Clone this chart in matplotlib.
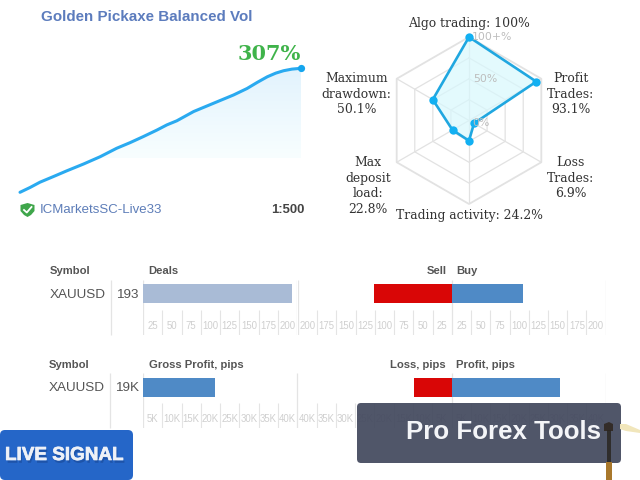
import numpy as np
import matplotlib
matplotlib.use('Agg')
from matplotlib import pyplot as plt
from matplotlib import patheffects as pe
from matplotlib.colors import LinearSegmentedColormap
from matplotlib.patches import FancyBboxPatch, Polygon

# equity curve
equity_time = [0, 3.6, 7.1, 11.9, 16.6, 22.6, 28.5, 34.4, 39.2, 43.9, 48.7, 52.3, 55.8, 61.8, 70.1, 76, 80.8, 84.4, 88, 91, 93.8, 96.8, 100]
equity_pct = [0, 12, 25, 39, 53, 70, 88, 109, 123, 138, 154, 167, 177, 200, 224, 241, 257, 272, 286, 295, 301, 305, 307]

# radar
radar_names = ['Algo trading', 'Profit\nTrades', 'Loss\nTrades', 'Trading activity', 'Max\ndeposit\nload', 'Maximum\ndrawdown']
radar_values = [100, 93.1, 6.9, 24.2, 22.8, 50.1]
radar_rings = [25, 50, 75, 100]

# bar tables
symbol = 'XAUUSD'
deals_total = 193
deals_sell = 101
deals_buy = 92
deals_ticks = [25, 50, 75, 100, 125, 150, 175, 200]
pips_total = 18.6
pips_total_label = '19K'
pips_loss = 9.6
pips_profit = 28.2
pips_ticks = [5, 10, 15, 20, 25, 30, 35, 40]

fig = plt.figure(figsize=(6.4, 4.8), dpi=100, facecolor='white')
plt.rcParams['font.family'] = ['Liberation Sans', 'DejaVu Sans']


def px_axes(x0, y0, x1, y1, **kw):
    return fig.add_axes([x0 / 640, 1 - y1 / 480, (x1 - x0) / 640, (y1 - y0) / 480], **kw)


# ---- equity ----
ax = px_axes(20, 68.3, 301, 192.3)
ax.axis('off')
floor = 85
fade = LinearSegmentedColormap.from_list('fade', ['#e2f3fd', '#f8feff'])
poly = ax.fill_between(equity_time, floor, equity_pct, where=np.array(equity_pct) >= floor,
                       interpolate=True, facecolor='none', edgecolor='none')
im = ax.imshow(np.linspace(0, 1, 100).reshape(-1, 1), cmap=fade, extent=[0, 100, floor, 307],
               aspect='auto', origin='upper', zorder=1)
im.set_clip_path(poly.get_paths()[0], transform=ax.transData)
ax.set_xlim(0, 100)
ax.set_ylim(0, 307)
ax.plot(equity_time, equity_pct, color='#2aaaf0', lw=2.2, solid_capstyle='round', solid_joinstyle='round',
        zorder=3, clip_on=False)
ax.plot(equity_time[-1], equity_pct[-1], 'o', color='#14a5ee', ms=5.2, mew=0, zorder=4, clip_on=False)

# ---- radar ----
rad = px_axes(469 - 83.5, 120.5 - 83.5, 469 + 83.5, 120.5 + 83.5, projection='polar')
rad.set_theta_zero_location('N')
rad.set_theta_direction(-1)
rad.set_ylim(0, 100)
rad.axis('off')
angles = np.deg2rad(np.arange(0, 360, 60))
a_closed = np.append(angles, angles[0])
for r in radar_rings:
    rad.plot(a_closed, [r] * 7, color='#e2e2e2', lw=1.3 if r == 100 else 0.9, clip_on=False, zorder=1)
for a in angles:
    rad.plot([a, a], [0, 100], color='#e2e2e2', lw=0.9, zorder=1)
v_closed = radar_values + radar_values[:1]
rad.fill(a_closed, v_closed, color='#d8f8fd', alpha=0.7, zorder=2, lw=0)
rad.plot(a_closed, v_closed, color='#20a7e0', lw=1.9, zorder=3, clip_on=False)
rad.plot(angles, radar_values, 'o', color='#12b0f2', ms=6, mew=0, zorder=4, clip_on=False)


# ---- bar tables ----
def bar_panel(x0, x1, y_top, y_bar0, y_bar1, y_tick, y_bottom, ticks, reverse, values, colors, suffix):
    a = px_axes(x0, y_top, x1, y_bottom)
    a.set_xlim(ticks[-1], 0) if reverse else a.set_xlim(0, ticks[-1])
    a.set_ylim(y_bottom, y_top)
    a.axis('off')
    tick_color = '#e4e4e4'
    step = ticks[1] - ticks[0]
    for t in ticks[:-1]:
        a.vlines(t, y_tick, y_bottom, color=tick_color, lw=0.8)
    for t in [0, ticks[-1]]:
        a.vlines(t, y_top, y_bottom, color=tick_color, lw=0.9)
    for v, c in zip(values, colors):
        a.barh((y_bar0 + y_bar1) / 2, v, height=y_bar1 - y_bar0, color=c, zorder=3)
    ymid = y_tick + (y_bottom - y_tick) * 0.64
    for t in ticks:
        a.text(t - step / 2, ymid, f'{t}{suffix}', color='#cfcfcf', fontsize=6.9, ha='center', va='center')
    return a


bar_panel(143, 297.3, 280, 284.3, 302.7, 310, 335, deals_ticks, False, [deals_total], ['#a9bbd6'], '')
bar_panel(297.6, 452, 280, 284.3, 302.7, 310, 335, deals_ticks, True, [deals_sell], ['#d90606'], '')
bar_panel(452, 605.7, 280, 284.3, 302.7, 310, 335, deals_ticks, False, [deals_buy], ['#4f8ac6'], '')
bar_panel(143, 297.3, 373, 377.7, 396.7, 403, 428, pips_ticks, False, [pips_total], ['#4f8ac6'], 'K')
bar_panel(297.3, 451.5, 373, 377.7, 396.7, 403, 428, pips_ticks, True, [pips_loss], ['#d90606'], 'K')
bar_panel(451.5, 605.7, 373, 377.7, 396.7, 403, 428, pips_ticks, False, [pips_profit], ['#4f8ac6'], 'K')

# ---- overlay: everything placed in pixel coordinates ----
ov = px_axes(0, 0, 640, 480)
ov.set_xlim(0, 640)
ov.set_ylim(480, 0)
ov.axis('off')
ov.patch.set_alpha(0)

ov.text(41, 16.8, 'Golden Pickaxe Balanced Vol', color='#5c7cbd', fontsize=10.9, weight='bold', va='center')
ov.text(301, 53.5, f'{equity_pct[-1]}%', color='#3fb34a', fontsize=15, weight='bold', family='DejaVu Serif', ha='right', va='center')
ov.text(40, 210, 'ICMarketsSC-Live33', color='#5d7db8', fontsize=9.5, va='center')
ov.text(305, 210, '1:500', color='#444444', fontsize=9.4, weight='bold', ha='right', va='center')
ov.add_patch(Polygon([[20.5, 205], [27.5, 203], [34.5, 205], [34.5, 211], [31, 215], [27.5, 217], [24, 215], [20.5, 211]],
                     closed=True, fc='#3fa64b', ec='none'))
ov.plot([24, 26.8, 31.5], [210, 212.5, 207], color='white', lw=1.3)

# radar labels
label_pos = [(469, 23.5), (570.7, 94), (570.7, 178), (469, 215), (368, 186), (356.7, 94)]
for name, v, (lx, ly) in zip(radar_names, radar_values, label_pos):
    sep = ': ' if '\n' not in name else ':\n'
    ov.text(lx, ly, f'{name}{sep}{v:g}%', family='DejaVu Serif', fontsize=8.9, color='#333333',
            ha='center', va='center', linespacing=1.28)
ov.text(472, 37.5, '100+%', family='DejaVu Sans', fontsize=7.8, color='#bdbdbd', va='center', zorder=5)
ov.text(473, 79.5, '50%', family='DejaVu Sans', fontsize=7.8, color='#bdbdbd', va='center', zorder=5)
ov.text(472, 122.5, '0%', family='DejaVu Sans', fontsize=7.8, color='#bdbdbd', va='center', zorder=5)

# table text
hdr = dict(color='#555555', fontsize=8.1, weight='bold', va='center')
row = dict(color='#555555', fontsize=9.7, va='center')
ov.text(50, 270.5, 'Symbol', **hdr)
ov.text(148, 270.5, 'Deals', **hdr)
ov.text(446.7, 270.5, 'Sell', ha='right', **hdr)
ov.text(456.7, 270.5, 'Buy', **hdr)
ov.text(50, 294.8, symbol, **row)
ov.text(116, 294.8, str(deals_total), **row)
ov.vlines(110.7, 280, 335, color='#e4e4e4', lw=0.9)

ov.text(49, 364.5, 'Symbol', **hdr)
ov.text(148.7, 364.5, 'Gross Profit, pips', **hdr)
ov.text(445.7, 364.5, 'Loss, pips', ha='right', **hdr)
ov.text(456, 364.5, 'Profit, pips', **hdr)
ov.text(49, 388.3, symbol, **row)
ov.text(115, 388.3, pips_total_label, **row)
ov.vlines(109.5, 373, 428, color='#e4e4e4', lw=0.9)

# banners
ov.add_patch(FancyBboxPatch((0, 430), 133, 50, boxstyle='round,pad=0,rounding_size=5',
                            fc='#2566c8', ec='none', zorder=6))
ov.text(5, 455.5, 'LIVE SIGNAL', color='#eef1f7', fontsize=13.6, weight='bold', va='center', zorder=7,
        path_effects=[pe.SimplePatchShadow(offset=(1, -2), shadow_rgbFace='#0f3270', alpha=0.35),
                      pe.Stroke(linewidth=0.5, foreground='#eef1f7'), pe.Normal()])
ov.add_patch(FancyBboxPatch((359, 405), 260, 56, boxstyle='round,pad=2,rounding_size=4',
                            fc='#43495e', ec='none', alpha=0.93, zorder=6))
ov.text(406, 432, 'Pro Forex Tools', color='#f4f5f8', fontsize=18.6, weight='bold', va='center', zorder=7)

# pickaxe
ov.add_patch(Polygon([[604, 424], [609, 422], [613, 424], [613, 431], [604, 431]], closed=True, fc='#332c28', ec='none', zorder=8))
ov.add_patch(Polygon([[607, 430], [611, 430], [611, 462], [607, 462]], closed=True, fc='#2a2622', alpha=0.85, ec='none', zorder=8))
ov.add_patch(Polygon([[606, 462], [612, 462], [612, 480], [606, 480]], closed=True, fc='#a9782c', ec='none', zorder=8))
ov.add_patch(Polygon([[620, 424], [626, 424], [640, 430], [640, 433], [626, 431], [620, 429]], closed=True, fc='#f1e6bb', ec='none', zorder=8))

fig.savefig('out.png', dpi=100)
